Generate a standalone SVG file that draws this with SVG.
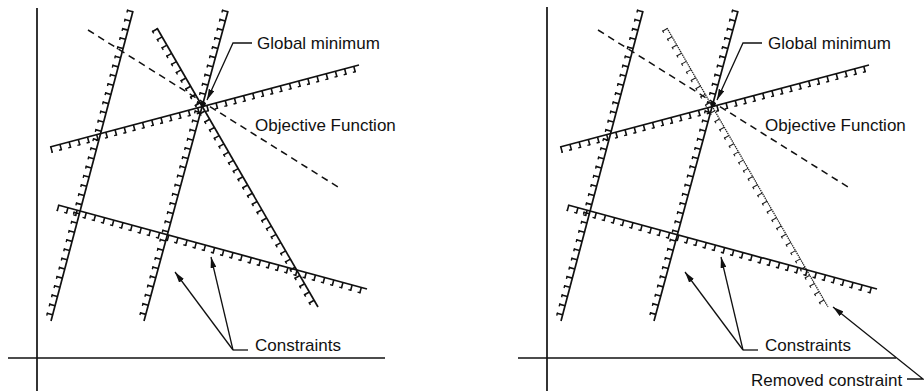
<svg xmlns="http://www.w3.org/2000/svg" xmlns:xlink="http://www.w3.org/1999/xlink" width="924" height="391" viewBox="0 0 924 391">
<style>
.ax{stroke:#111;stroke-width:1.7;fill:none}
.ln{stroke:#111;stroke-width:1.7;fill:none}
.tk{stroke:#111;stroke-width:6;stroke-dasharray:1.6 7.9;fill:none}
.hk{stroke:#111;stroke-width:1.4;stroke-dasharray:3 6.5;fill:none}
.hkb{stroke-dashoffset:1.6}
.rln{stroke:#222;stroke-width:1.3;stroke-dasharray:1.4 0.8;fill:none}
.rtk{stroke:#222;stroke-width:5.5;stroke-dasharray:1.1 8.4;fill:none}
.rhk{stroke:#222;stroke-width:1.1;stroke-dasharray:2.5 7;fill:none}
.obj{stroke:#111;stroke-width:1.5;stroke-dasharray:7 5;fill:none}
.ld{stroke:#111;stroke-width:1.3;fill:none}
.ar{marker-end:url(#ah)}
text{font-family:"Liberation Sans",Arial,sans-serif;font-size:17px;fill:#111}
</style>
<defs>
<marker id="ah" viewBox="0 0 11 6" refX="11" refY="3" markerWidth="11" markerHeight="6" orient="auto" markerUnits="userSpaceOnUse">
<path d="M0,0 L11,3 L0,6 z" fill="#111"/>
</marker>
<g id="cA">
<line class="ln" x1="133" y1="11" x2="51" y2="321"/>
<line class="tk" x1="130.10" y1="10.23" x2="48.10" y2="320.23"/>
<line class="hk" x1="127.68" y1="9.59" x2="45.68" y2="319.59"/>
</g>
<g id="cB">
<line class="ln" x1="228" y1="11" x2="144" y2="321"/>
<line class="tk" x1="225.10" y1="10.22" x2="141.10" y2="320.22"/>
<line class="hk" x1="222.69" y1="9.56" x2="138.69" y2="319.56"/>
</g>
<g id="cC">
<line class="ln" x1="157" y1="28" x2="318" y2="307"/>
<line class="tk" x1="154.40" y1="29.50" x2="315.40" y2="308.50"/>
<line class="hk" x1="152.24" y1="30.75" x2="313.24" y2="309.75"/>
</g>
<g id="cD">
<line class="ln" x1="50" y1="147" x2="359" y2="65"/>
<line class="tk" x1="50.77" y1="149.90" x2="359.77" y2="67.90"/>
<line class="hk hkb" x1="51.41" y1="152.32" x2="360.41" y2="70.32"/>
</g>
<g id="cE">
<line class="ln" x1="58" y1="205" x2="367" y2="289"/>
<line class="tk" x1="57.21" y1="207.90" x2="366.21" y2="291.90"/>
<line class="hk hkb" x1="56.56" y1="210.31" x2="365.56" y2="294.31"/>
</g>
</defs>

<g id="left-panel">
<g id="left-axes">
<line class="ax" x1="37" y1="8" x2="37" y2="391"/>
<line class="ax" x1="8" y1="358" x2="385" y2="358"/>
</g>
<g id="left-objective"><line class="obj" x1="88" y1="30" x2="338" y2="187"/></g>
<g id="left-constraints">
<use xlink:href="#cA"/>
<use xlink:href="#cB"/>
<use xlink:href="#cC"/>
<use xlink:href="#cD"/>
<use xlink:href="#cE"/>
</g>
<g id="left-minimum"><circle cx="203" cy="104" r="2.6" fill="#111"/></g>
<g id="left-connectors">
<polyline class="ld ar" points="252,43 233,43 207,100"/>
<polyline class="ld" points="248,350 233,350"/>
<line class="ld ar" x1="233" y1="350" x2="175" y2="272"/>
<line class="ld ar" x1="233" y1="350" x2="211" y2="257"/>
</g>
<g id="left-labels">
<text x="257" y="49">Global minimum</text>
<text x="255" y="131">Objective Function</text>
<text x="255" y="351">Constraints</text>
</g>
</g>

<g id="right-panel">
<g id="right-axes">
<line class="ax" x1="547" y1="7" x2="547" y2="391"/>
<line class="ax" x1="518" y1="358" x2="896" y2="358"/>
</g>
<g id="right-objective" transform="translate(510,0)"><line class="obj" x1="88" y1="30" x2="338" y2="187"/></g>
<g id="right-constraints" transform="translate(510,0)">
<use xlink:href="#cA"/>
<use xlink:href="#cB"/>
<g id="removed-constraint">
<line class="rln" x1="157" y1="28" x2="318" y2="307"/>
<line class="rtk" x1="154.62" y1="29.37" x2="315.62" y2="308.37"/>
<line class="rhk" x1="152.50" y1="30.60" x2="313.50" y2="309.60"/>
</g>
<use xlink:href="#cD"/>
<use xlink:href="#cE"/>
</g>
<g id="right-minimum"><circle cx="713" cy="104" r="2.6" fill="#111"/></g>
<g id="right-connectors">
<polyline class="ld ar" points="762,43 743,43 717,100"/>
<polyline class="ld" points="758,350 743,350"/>
<line class="ld ar" x1="743" y1="350" x2="685" y2="272"/>
<line class="ld ar" x1="743" y1="350" x2="721" y2="257"/>
<polyline class="ld ar" points="907,379 923,379 833,307"/>
</g>
<g id="right-labels">
<text x="768" y="49">Global minimum</text>
<text x="765" y="131">Objective Function</text>
<text x="765" y="351">Constraints</text>
<text x="751" y="386">Removed constraint</text>
</g>
</g>
</svg>
